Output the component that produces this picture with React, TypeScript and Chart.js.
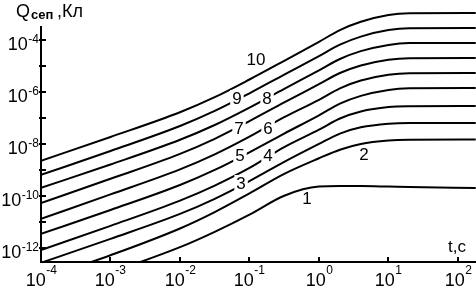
import React, { useEffect, useRef } from 'react';
import { Chart, registerables } from 'chart.js';

Chart.register(...registerables);

// time points, s
const timeValues = [1e-4, 1e-3, 1e-2, 3.16e-2, 1e-1, 3.16e-1, 1, 2, 4, 10, 20, 180];

// separated charge, C (curves 1..10)
const curve1 = [1.26e-14, 1.12e-13, 1.07e-12, 4.17e-12, 1.91e-11, 1.02e-10, 2.29e-10, 2.4e-10, 2.4e-10, 2.29e-10, 2.19e-10, 2.04e-10];
const curve2 = [6.31e-14, 5.25e-13, 5.62e-12, 2.4e-11, 1.26e-10, 7.08e-10, 2.82e-9, 6.03e-9, 1.0e-8, 1.35e-8, 1.45e-8, 1.48e-8];
const curve3 = [2.69e-13, 2.24e-12, 2.04e-11, 7.76e-11, 3.72e-10, 2.04e-9, 1.0e-8, 2.51e-8, 4.37e-8, 6.03e-8, 6.46e-8, 6.46e-8];
const curve4 = [8.32e-13, 7.08e-12, 6.61e-11, 2.51e-10, 1.2e-9, 7.59e-9, 3.55e-8, 9.55e-8, 1.78e-7, 2.63e-7, 2.82e-7, 2.88e-7];
const curve5 = [3.47e-12, 2.88e-11, 2.63e-10, 1.0e-9, 4.79e-9, 2.51e-8, 1.26e-7, 3.55e-7, 7.08e-7, 1.2e-6, 1.38e-6, 1.41e-6];
const curve6 = [1.32e-11, 1.15e-10, 1.05e-9, 3.98e-9, 1.91e-8, 1.07e-7, 5.01e-7, 1.38e-6, 2.75e-6, 4.57e-6, 5.25e-6, 5.37e-6];
const curve7 = [5.37e-11, 4.57e-10, 4.17e-9, 1.58e-8, 7.59e-8, 3.98e-7, 2.0e-6, 5.37e-6, 1.05e-5, 1.74e-5, 2.0e-5, 2.04e-5];
const curve8 = [2.04e-10, 1.62e-9, 1.45e-8, 5.37e-8, 2.51e-7, 1.32e-6, 6.76e-6, 1.86e-5, 3.72e-5, 6.46e-5, 7.59e-5, 7.67e-5];
const curve9 = [6.46e-10, 5.37e-9, 4.9e-8, 1.86e-7, 8.91e-7, 4.68e-6, 2.4e-5, 6.61e-5, 1.35e-4, 2.4e-4, 2.82e-4, 2.88e-4];
const curve10 = [2.24e-9, 1.86e-8, 1.66e-7, 6.31e-7, 3.02e-6, 1.58e-5, 8.51e-5, 2.4e-4, 5.01e-4, 9.12e-4, 1.07e-3, 1.1e-3];

const curves = [curve1, curve2, curve3, curve4, curve5, curve6, curve7, curve8, curve9, curve10];
const curveNames = ['1', '2', '3', '4', '5', '6', '7', '8', '9', '10'];

// curve labels placed in data coordinates
const curveLabelT = [0.67, 4.45, 0.0757, 0.185, 0.073, 0.185, 0.0706, 0.179, 0.066, 0.124];
const curveLabelQ = [8.3e-11, 4.12e-9, 3.16e-10, 3.8e-9, 3.8e-9, 4.12e-8, 4.12e-8, 5.9e-7, 5.9e-7, 1.86e-5];
const curveLabelOnLine = [false, false, true, true, true, true, true, true, true, false];

// ticks
const xTickValues = [1e-4, 1e-3, 1e-2, 1e-1, 1, 10, 100];
const xTickExponents = ['-4', '-3', '-2', '-1', '0', '1', '2'];
const yTickValues = [1e-12, 1e-11, 1e-10, 1e-9, 1e-8, 1e-7, 1e-6, 1e-5, 1e-4];
const yTickExponents = ['-12', '', '-10', '', '-8', '', '-6', '', '-4'];

const xAxisTitle = 't,c';
const yTitleMain = 'Q';
const yTitleSub = 'сеп';
const yTitleUnit = ',Кл';

const X_MIN = 1e-4;
const X_MAX = 181.6;
const Y_MIN = 2.88e-13;
const Y_MAX = 3.16e-4;

const FONT = '"Liberation Sans", Arial, sans-serif';

const decorPlugin = {
  id: 'decor',
  afterDraw(chart: any) {
    const ctx = chart.ctx as CanvasRenderingContext2D;
    const xs = chart.scales.x;
    const ys = chart.scales.y;
    const area = chart.chartArea;
    ctx.save();
    ctx.fillStyle = '#000';
    ctx.strokeStyle = '#000';
    ctx.lineWidth = 2;

    // x ticks (inward) and labels
    xs.ticks.forEach((tk: any, i: number) => {
      const px = Math.round(xs.getPixelForValue(tk.value));
      ctx.beginPath();
      ctx.moveTo(px, area.bottom);
      ctx.lineTo(px, area.bottom - 5);
      ctx.stroke();
      const exp = xTickExponents[i];
      ctx.font = '18px ' + FONT;
      const wb = ctx.measureText('10').width;
      ctx.font = '12px ' + FONT;
      const we = ctx.measureText(exp).width;
      const left = px - (wb + we) / 2;
      ctx.textAlign = 'left';
      ctx.textBaseline = 'alphabetic';
      ctx.font = '18px ' + FONT;
      ctx.fillText('10', left, 286);
      ctx.font = '12px ' + FONT;
      ctx.fillText(exp, left + wb + 0.5, 274);
    });

    // y ticks (inward) and labels
    ys.ticks.forEach((tk: any, i: number) => {
      const py = Math.round(ys.getPixelForValue(tk.value));
      ctx.beginPath();
      ctx.moveTo(area.left - 2, py);
      ctx.lineTo(area.left + 5, py);
      ctx.stroke();
      const exp = yTickExponents[i];
      if (!exp) return;
      ctx.font = '12px ' + FONT;
      const we = ctx.measureText(exp).width;
      ctx.font = '18px ' + FONT;
      const wb = ctx.measureText('10').width;
      const right = 39;
      ctx.textAlign = 'left';
      ctx.textBaseline = 'alphabetic';
      ctx.fillText('10', right - we - wb - 0.5, py + 10);
      ctx.font = '12px ' + FONT;
      ctx.fillText(exp, right - we, py + 3);
    });

    // curve labels
    ctx.font = '17px ' + FONT;
    ctx.textAlign = 'center';
    ctx.textBaseline = 'middle';
    curveNames.forEach((name, i) => {
      const px = xs.getPixelForValue(curveLabelT[i]);
      const py = ys.getPixelForValue(curveLabelQ[i]);
      const w = ctx.measureText(name).width;
      if (curveLabelOnLine[i]) {
        ctx.fillStyle = '#fff';
        ctx.fillRect(px - w / 2 - 2, py - 8, w + 4, 16);
      }
      ctx.fillStyle = '#000';
      ctx.fillText(name, px, py + 1);
    });

    // axis titles
    ctx.textAlign = 'left';
    ctx.textBaseline = 'alphabetic';
    ctx.font = '17px ' + FONT;
    ctx.fillText(xAxisTitle, 448, 252);
    ctx.font = '18px ' + FONT;
    ctx.fillText(yTitleMain, 16, 17);
    ctx.font = 'bold 13px ' + FONT;
    ctx.fillText(yTitleSub, 31, 19);
    ctx.font = '18px ' + FONT;
    ctx.fillText(yTitleUnit, 57, 17);
    ctx.restore();
  },
};

export default function App() {
  const canvasRef = useRef<HTMLCanvasElement | null>(null);

  useEffect(() => {
    const canvas = canvasRef.current;
    if (!canvas) return;
    const chart = new Chart(canvas, {
      type: 'line',
      data: {
        datasets: curves.map((c, i) => ({
          label: curveNames[i],
          data: c.map((q, j) => ({ x: timeValues[j], y: q })),
          borderColor: '#000',
          borderWidth: 2,
          pointRadius: 0,
          fill: false,
          cubicInterpolationMode: 'monotone' as const,
          clip: { left: 0, top: 30, right: 0, bottom: 0 },
        })),
      },
      options: {
        animation: false,
        responsive: false,
        devicePixelRatio: 1,
        layout: { padding: { top: 27, left: 0, right: 0, bottom: 0 } },
        plugins: {
          legend: { display: false },
          tooltip: { enabled: false },
          title: { display: false },
        },
        scales: {
          x: {
            type: 'logarithmic',
            min: X_MIN,
            max: X_MAX,
            position: 'bottom',
            afterBuildTicks: (s: any) => {
              s.ticks = xTickValues.map((v) => ({ value: v }));
            },
            afterFit: (s: any) => {
              s.height = 25;
            },
            ticks: { display: false },
            grid: { display: false },
            border: { display: true, color: '#000', width: 2 },
          },
          y: {
            type: 'logarithmic',
            min: Y_MIN,
            max: Y_MAX,
            position: 'left',
            afterBuildTicks: (s: any) => {
              s.ticks = yTickValues.map((v) => ({ value: v }));
            },
            afterFit: (s: any) => {
              s.width = 41;
            },
            ticks: { display: false },
            grid: { display: false },
            border: { display: true, color: '#000', width: 2 },
          },
        },
      } as any,
      plugins: [decorPlugin],
    });
    return () => chart.destroy();
  }, []);

  return (
    <div style={{ position: 'absolute', left: 0, top: 0, width: 476, height: 287, background: '#fff' }}>
      <canvas ref={canvasRef} width={476} height={287} style={{ display: 'block' }} />
    </div>
  );
}
